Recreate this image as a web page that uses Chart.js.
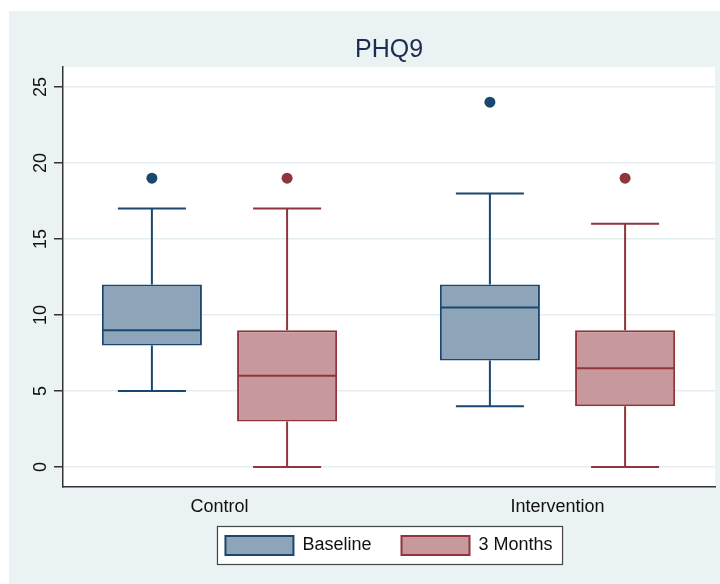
<!DOCTYPE html>
<html>
<head>
<meta charset="utf-8">
<script src="https://cdn.jsdelivr.net/npm/chart.js@4.4.1/dist/chart.umd.min.js"></script>
<style>
  html, body { margin: 0; padding: 0; background: #fff; }
  #wrap { position: absolute; left: 9px; top: 11px; width: 711px; height: 573px; background: #eaf2f3; }
</style>
</head>
<body>
<div id="wrap"><canvas id="chart" width="711" height="573"></canvas></div>
<script>
const groups = ["Control", "Intervention"];
const seriesNames = ["Baseline", "3 Months"];

// box plot values per group
const baselineMin = [5, 4];
const baselineQ1 = [8, 7];
const baselineMedian = [9, 10.5];
const baselineQ3 = [12, 12];
const baselineMax = [17, 18];
const baselineOutliers = [[19], [24]];

const monthsMin = [0, 0];
const monthsQ1 = [3, 4];
const monthsMedian = [6, 6.5];
const monthsQ3 = [9, 9];
const monthsMax = [17, 16];
const monthsOutliers = [[19], [19]];

const yTicks = [0, 5, 10, 15, 20, 25];

const navy = "#1a476f";
const maroon = "#90353b";

const stats = [
  { min: baselineMin, med: baselineMedian, max: baselineMax, out: baselineOutliers, color: navy },
  { min: monthsMin, med: monthsMedian, max: monthsMax, out: monthsOutliers, color: maroon },
];

// whiskers, medians and outside values, placed with the chart's own scales
const boxExtras = {
  id: "boxExtras",
  afterDatasetsDraw(chart) {
    const ctx = chart.ctx;
    const y = chart.scales.y;
    ctx.save();
    stats.forEach((s, i) => {
      const meta = chart.getDatasetMeta(i);
      meta.data.forEach((bar, j) => {
        const x = bar.x;
        const w = bar.width;
        const [q1, q3] = chart.data.datasets[i].data[j].y;
        ctx.strokeStyle = s.color;
        ctx.lineWidth = 2;
        ctx.beginPath();
        // upper whisker
        ctx.moveTo(x, y.getPixelForValue(q3));
        ctx.lineTo(x, y.getPixelForValue(s.max[j]));
        ctx.moveTo(x - w * 0.34, y.getPixelForValue(s.max[j]));
        ctx.lineTo(x + w * 0.34, y.getPixelForValue(s.max[j]));
        // lower whisker
        ctx.moveTo(x, y.getPixelForValue(q1));
        ctx.lineTo(x, y.getPixelForValue(s.min[j]));
        ctx.moveTo(x - w * 0.34, y.getPixelForValue(s.min[j]));
        ctx.lineTo(x + w * 0.34, y.getPixelForValue(s.min[j]));
        // median
        ctx.moveTo(x - w / 2 + 1, y.getPixelForValue(s.med[j]));
        ctx.lineTo(x + w / 2 - 1, y.getPixelForValue(s.med[j]));
        ctx.stroke();
        ctx.fillStyle = s.color;
        s.out[j].forEach((v) => {
          ctx.beginPath();
          ctx.arc(x, y.getPixelForValue(v), 5.5, 0, Math.PI * 2);
          ctx.fill();
        });
      });
    });
    ctx.restore();
  },
};

// white plot region and framed legend
const backdrop = {
  id: "backdrop",
  beforeDraw(chart) {
    const { ctx, chartArea } = chart;
    ctx.save();
    ctx.fillStyle = "#fff";
    ctx.fillRect(chartArea.left, chartArea.top, chartArea.right - chartArea.left, chartArea.bottom - chartArea.top);
    const hb = chart.legend.legendHitBoxes;
    if (hb && hb.length) {
      const first = hb[0];
      const last = hb[hb.length - 1];
      const left = first.left - 8;
      const right = last.left + last.width + 10;
      const top = first.top - 9.5;
      const bottom = first.top + first.height + 9.5;
      ctx.fillStyle = "#fff";
      ctx.fillRect(left, top, right - left, bottom - top);
      ctx.strokeStyle = "#444";
      ctx.lineWidth = 1.2;
      ctx.strokeRect(left, top, right - left, bottom - top);
    }
    ctx.restore();
  },
};

const toPoints = (lo, hi) => groups.map((g, i) => ({ x: i, y: [lo[i], hi[i]] }));

new Chart(document.getElementById("chart"), {
  type: "bar",
  data: {
    datasets: [
      {
        label: seriesNames[0],
        data: toPoints(baselineQ1, baselineQ3),
        backgroundColor: "#8ea4b8",
        borderColor: navy,
        borderWidth: 2,
        borderSkipped: false,
      },
      {
        label: seriesNames[1],
        data: toPoints(monthsQ1, monthsQ3),
        backgroundColor: "#c8999c",
        borderColor: maroon,
        borderWidth: 2,
        borderSkipped: false,
      },
    ],
  },
  options: {
    responsive: false,
    animation: false,
    categoryPercentage: 0.8,
    barPercentage: 0.74,
    layout: { padding: { left: 0, right: 5, top: 0, bottom: 19 } },
    plugins: {
      tooltip: { enabled: false },
      title: {
        display: true,
        fullSize: false,
        text: "PHQ9",
        color: "#1e2b50",
        font: { family: "Liberation Sans", size: 25, weight: "normal" },
        padding: { top: 24, bottom: 2 },
      },
      legend: {
        position: "bottom",
        fullSize: false,
        labels: {
          boxWidth: 68,
          boxHeight: 19,
          padding: 30,
          color: "#111",
          font: { family: "Liberation Sans", size: 18 },
        },
      },
    },
    scales: {
      x: {
        type: "linear",
        min: -0.463,
        max: 1.466,
        offset: false,
        grid: { display: true, offset: false, drawOnChartArea: false, drawTicks: false },
        border: { display: true, color: "#333", width: 1.5 },
        afterBuildTicks(scale) { scale.ticks = groups.map((g, i) => ({ value: i })); },
        ticks: {
          color: "#111",
          mirror: true,
          padding: -31,
          font: { family: "Liberation Sans", size: 18 },
          callback: (v) => groups[v],
        },
        afterFit(scale) { scale.height = 19; },
      },
      y: {
        min: -1.316,
        max: 26.316,
        grid: { color: "#e4eef1", lineWidth: 1.5, tickColor: "#333", tickLength: 9 },
        border: { display: true, color: "#333", width: 1.5 },
        afterBuildTicks(scale) { scale.ticks = yTicks.map((v) => ({ value: v })); },
        ticks: {
          color: "#111",
          padding: 3,
          crossAlign: "center",
          minRotation: 90,
          maxRotation: 90,
          font: { family: "Liberation Sans", size: 18 },
        },
        afterFit(scale) { scale.width = 54; },
      },
    },
  },
  plugins: [backdrop, boxExtras],
});
</script>
</body>
</html>
